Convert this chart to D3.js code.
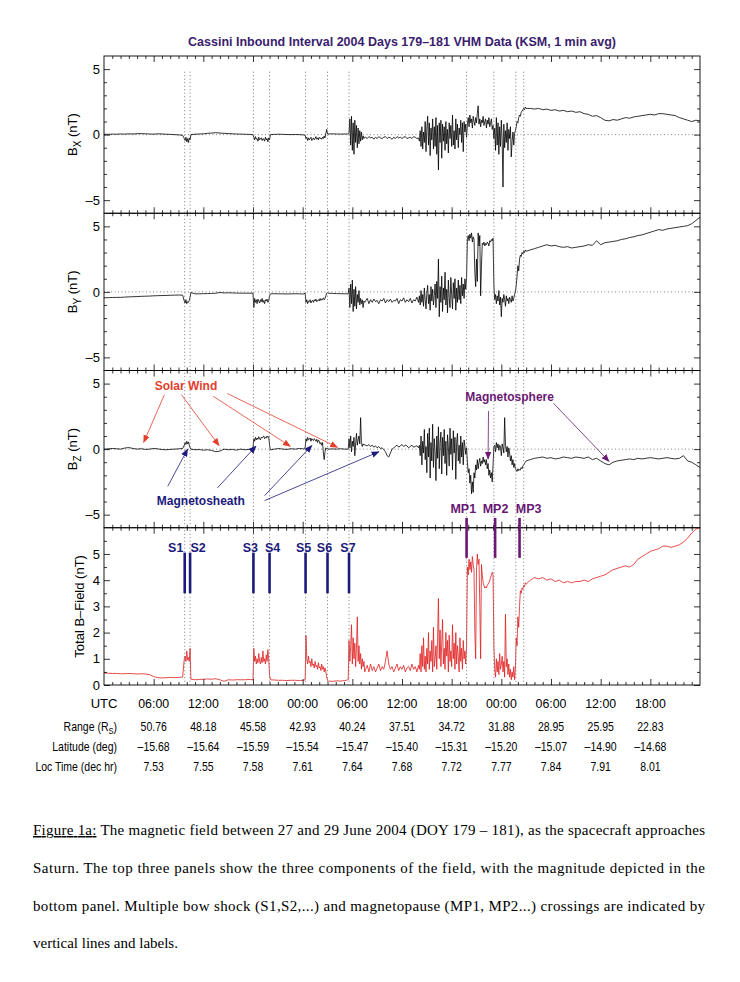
<!DOCTYPE html>
<html>
<head>
<meta charset="utf-8">
<script src="https://cdn.jsdelivr.net/npm/d3@7"></script>
<style>
  body { margin: 0; background: #fff; }
</style>
</head>
<body>
<svg id="chart" width="740" height="982" font-family="'Liberation Sans', Arial, sans-serif"></svg>
<script>
// hours since 2004-179 00:00 UTC; each segment is [start hour, step, values]
const bxSegs = [
  [0, 0.5, [0.03,0.02,0.04,0.03,0.05,0.04,0.06,0.05,0.07,0.08,0.06,0.05,0.04,0.06,0.05,0.03,0.02,0.0,-0.02,-0.05]],
  [9.7, 0.1, [-0.3,-0.45,-0.2,-0.55,-0.3,-0.6,-0.25,-0.4]],
  [10.5, 0.5, [0.0,0.03,0.05,0.06,0.1,0.12,0.15,0.12,0.1,0.08,0.06,0.05,0.04,0.03,0.02]],
  [18.0, 0.1, [0.0,-0.2,-0.4,-0.15,-0.35,-0.3,-0.5,-0.2,-0.4,-0.3,-0.25,-0.45,-0.3,-0.35,-0.5,-0.2,-0.4,-0.3,-0.55,-0.25,-0.4]],
  [20.1, 0.5, [0.0,0.02,0.03,0.02,0.01,0.0,0.01,0.0,-0.02]],
  [24.3, 0.1, [-0.05,-0.3,-0.2,-0.45,-0.25,-0.4,-0.3,-0.2,-0.45,-0.35,-0.25,-0.4,-0.3,-0.15,-0.35,-0.25,-0.4,-0.2,-0.3,-0.25,-0.35,-0.2,-0.3,-0.1,-0.25,0.1,0.4,0.05]],
  [27.1, 0.5, [0.05,0.06,0.05,0.04,0.05]],
  [29.5, 0.1, [0.05,0.1,1.2,-0.8,1.4,-1.2,0.9,-1.5,1.1,-0.6,0.7,-1.0,0.5,-0.7,0.3,-0.5,0.2,-0.4,-0.1,-0.3,-0.2]],
  [31.6, 0.2, [-0.2,-0.3,-0.15,-0.25,-0.2,-0.35,-0.2,-0.3,-0.15,-0.25,-0.3,-0.2,-0.15,-0.3,-0.2,-0.25,-0.35,-0.2,-0.3,-0.15,-0.25,-0.2,-0.3,-0.2,-0.15,-0.3,-0.25,-0.2,-0.3,-0.15,-0.2,-0.3,-0.25]],
  [38.1, 0.1, [-0.5,0.3,-0.9,0.6,-1.1,0.2,-0.6,1.0,-1.3,0.4,
               1.4,-0.8,0.9,-1.6,0.5,-0.4,1.2,-1.1,0.6,-0.9,
               1.3,-1.5,0.7,-2.7,0.9,-0.6,1.1,-1.8,0.8,-0.5,
               0.6,-1.2,1.0,-0.7,0.4,-1.4,0.9,-0.3,0.7,-0.9,
               1.5,-0.8,0.3,-1.1,1.2,-0.4,0.8,-1.0,0.5,0.0,
               1.1,-0.6,0.9,-1.3,1.0,0.2,0.8,-0.2]],
  [43.9, 0.1, [0.8,1.3,0.6,1.5,0.9,1.2,0.5,1.4,1.0,0.7,1.3,0.9,1.6,2.2,0.8,1.2,0.6,1.1,0.9,1.4,0.7,1.0,1.2,0.5,1.1,0.8,1.3,0.6,0.9,1.2,0.4,0.7,-0.3]],
  [47.2, 0.1, [0.5,-1.2,1.3,-0.8,0.9,-1.5,0.6,-0.9,1.1,-0.4,-4.0,0.8,-1.0,0.3,-0.6,0.9,-1.2,0.4,-0.3,0.6,-1.7,-0.5,0.2,-0.8,0.1,0.3]],
  [49.8, 0.1, [0.6,1.0,0.9,1.3,1.5,1.4,1.7,1.8,1.9,2.0,1.9,2.1,2.0]],
  [51.5, 0.5, [2.0,1.95,2.0,1.9,1.95,1.85,1.9,1.8,1.85,1.75,1.8,1.7,1.75,1.6,1.55,1.4,1.45,1.3,1.1,1.05,1.15,1.1,1.2,1.3,1.25,1.35,1.4,1.45,1.5,1.55,1.5,1.6,1.6,1.55,1.5,1.45,1.3,1.2,1.1,1.0,1.1,1.05]]
]

const bySegs = [
  [0, 0.5, [-0.45,-0.44,-0.43,-0.42,-0.42,-0.4,-0.38,-0.37,-0.36,-0.34,-0.33,-0.32,-0.3,-0.29,-0.28,-0.27,-0.26,-0.25,-0.24,-0.25]],
  [9.7, 0.1, [-0.7,-0.85,-0.6,-0.9,-0.75,-0.8,-0.65,-0.4]],
  [10.5, 0.5, [-0.05,-0.15,-0.15,-0.14,-0.13,-0.12,-0.1,-0.05,-0.08,-0.07,-0.08,-0.09,-0.1,-0.1,-0.1]],
  [18.0, 0.1, [-0.1,-1.2,-0.5,-0.8,-0.6,-0.9,-0.55,-0.7,-0.85,-0.6,-0.75,-0.5,-0.8,-0.65,-0.9,-0.6,-0.7,-0.55,-0.8,-0.65,-0.3]],
  [20.1, 0.5, [-0.15,-0.14,-0.15,-0.15,-0.16,-0.15,-0.14,-0.15,-0.16]],
  [24.3, 0.1, [-0.1,-0.8,-0.6,-0.9,-0.7,-0.75,-0.6,-0.85,-0.7,-0.65,-0.8,-0.6,-0.7,-0.55,-0.75,-0.65,-0.6,-0.7,-0.5,-0.65,-0.55,-0.6,-0.45,-0.6,-0.5,-0.3,-0.1,-0.05]],
  [27.1, 0.5, [-0.1,-0.12,-0.13,-0.14,-0.15]],
  [29.5, 0.1, [-0.15,0.3,-1.2,0.6,-0.9,0.9,-1.5,0.2,-1.1,0.4,-1.3,-0.2,-0.8,0.1,-1.0,-0.5,-0.9,-0.6,-1.2,-0.7,-0.8]],
  [31.6, 0.2, [-0.7,-0.5,-0.9,-0.6,-0.8,-0.55,-0.75,-0.65,-0.9,-0.6,-0.7,-0.5,-0.85,-0.6,-0.75,-0.55,-0.8,-0.65,-0.7,-0.5,-0.9,-0.6,-0.7,-0.45,-0.8,-0.6,-0.75,-0.5,-0.85,-0.6,-0.7,-0.4,-0.8]],
  [38.1, 0.1, [-0.3,-1.0,0.1,-0.8,-0.2,-1.1,0.3,-0.6,-1.3,-0.1,
               0.5,-0.9,-0.2,-1.4,0.4,-0.7,0.2,-1.0,-0.3,0.6,
               -1.2,0.8,-0.5,2.5,-1.9,0.4,-0.8,1.2,-1.5,0.3,
               -0.6,1.5,-1.0,0.2,-1.6,0.9,-0.4,-1.2,1.1,-0.2,
               -1.3,0.7,-0.5,1.0,-1.4,0.3,-0.8,0.9,-0.6,0.5,
               -0.9,1.1,-0.3,0.6,-0.5,1.0,0.2,1.1]],
  [43.9, 0.1, [4.0,4.3,3.9,4.4,4.1,4.5,3.8,4.2,4.0,1.5,0.4,2.5,0.8,4.5,3.5,4.3,-0.3,2.0,3.7,3.6,3.8,3.5,3.7,3.6,3.8,3.7,3.5,3.9,3.8,4.0,3.9,4.1,0.5]],
  [47.2, 0.1, [-0.6,-0.2,-0.9,-0.3,-0.7,0.1,-1.0,-0.4,-1.9,-0.5,-0.8,-0.2,-0.6,-1.1,-0.3,-0.7,-0.5,-0.9,-0.4,-0.6,-0.8,-0.3,-0.7,-0.5,-0.2,0.0]],
  [49.8, 0.1, [0.5,1.2,2.0,1.6,2.5,2.8,2.7,3.0,2.9,3.1,3.0,3.2,3.1]],
  [51.5, 0.5, [3.2,3.3,3.4,3.5,3.6,3.5,3.55,3.45,3.4,3.45,3.35,3.4,3.45,3.5,3.6,3.55,3.9,3.6,3.75,3.8,3.85,3.9,4.0,4.05,4.15,4.2,4.3,4.35,4.45,4.55,4.65,4.75,4.7,4.8,4.85,4.9,4.95,5.0,5.05,5.2,5.45,5.7]]
]

const bzSegs = [
  [0, 0.5, [0.0,0.02,0.05,0.03,0.0,0.08,0.12,0.05,0.0,0.03,-0.02,0.0,0.05,0.02,-0.03,-0.05,-0.02,0.0,0.02,0.05]],
  [9.7, 0.1, [0.3,0.5,0.35,0.6,0.4,0.55,0.3,0.1]],
  [10.5, 0.5, [0.0,-0.05,-0.03,-0.08,-0.05,-0.1,-0.2,-0.15,0.0,-0.05,-0.02,-0.08,0.0,-0.05,-0.02]],
  [18.0, 0.1, [0.1,0.8,0.6,0.9,0.7,0.85,0.75,0.95,0.8,0.7,0.9,0.85,0.95,1.0,0.8,0.9,0.85,1.0,0.9,0.95,0.3]],
  [20.1, 0.5, [-0.05,0.0,0.05,0.0,-0.02,0.03,0.0,0.05,0.02]],
  [24.3, 0.1, [0.1,0.8,0.6,0.9,0.7,0.75,0.85,0.6,0.8,0.7,0.65,0.8,0.7,0.6,0.75,0.5,0.7,0.6,0.4,0.5,0.3,0.5,-0.3,-0.8,-0.2,0.1,0.0,0.05]],
  [27.1, 0.5, [0.0,0.02,0.0,0.03,0.0]],
  [29.5, 0.1, [0.0,0.8,0.1,1.0,-0.2,0.6,0.2,0.9,-0.5,0.4,1.2,0.3,0.7,1.0,0.4,2.4,0.5,0.2,0.4,0.3,0.35]],
  [31.6, 0.2, [0.3,0.25,0.35,0.2,0.3,0.15,0.25,0.1,0.2,0.05,0.1,-0.05,-0.2,-0.5,-0.6,-0.3,0.0,0.1,0.2,0.3,0.15,0.25,0.35,0.2,0.3,0.25,0.1,0.2,0.3,0.15,0.2,0.25,0.1]],
  [38.1, 0.1, [0.3,-0.5,1.0,-1.2,0.6,-0.3,1.5,-0.8,0.2,-1.8,
               1.2,-0.6,1.6,-2.2,0.5,-0.9,1.9,-1.4,0.8,-0.2,
               -2.4,1.0,-0.7,1.7,-1.5,0.4,1.3,-1.9,0.9,-0.5,
               1.5,-1.1,0.6,-2.0,1.1,0.2,-1.3,1.6,-0.4,0.8,
               -1.6,1.4,-0.3,0.9,-2.3,0.5,1.2,-0.9,0.3,-1.1,
               1.0,-0.6,0.5,-1.2,0.7,0.2,-0.4,0.1]],
  [43.9, 0.1, [-1.0,-1.8,-1.5,-2.6,-2.0,-3.4,-2.5,-3.3,-1.8,-2.2,-1.2,-1.6,-0.8,-1.5,-1.0,-0.7,-1.3,-0.9,-1.1,-0.6,-1.0,-0.8,-1.2,-0.8,-1.5,-1.1,-2.0,-1.6,-2.2,-1.8,-2.5,-1.2,0.2]],
  [47.2, 0.1, [0.3,-0.2,0.5,0.1,0.4,-0.1,0.3,0.2,-0.5,0.4,0.1,-0.3,2.4,0.3,-0.2,0.2,-0.6,0.1,-0.3,-0.9,-0.5,-1.2,-0.8,-1.4,-1.1,-1.5]],
  [49.8, 0.1, [-1.6,-1.7,-1.5,-1.65,-1.55,-1.6,-1.4,-1.5,-1.3,-1.2,-1.1,-1.0,-0.9]],
  [51.5, 0.5, [-0.8,-0.7,-0.65,-0.6,-0.7,-0.65,-0.75,-0.7,-0.6,-0.65,-0.7,-0.6,-0.65,-0.7,-0.6,-0.8,-0.7,-0.9,-1.1,-1.2,-1.0,-0.9,-0.85,-0.8,-0.75,-0.8,-0.7,-0.75,-0.7,-0.65,-0.7,-0.75,-0.7,-0.65,-0.7,-0.75,-0.7,-0.5,-0.9,-1.0,-1.2,-1.4]]
]

const btSegs = [
  [0, 0.5, [0.46,0.45,0.44,0.44,0.43,0.43,0.44,0.43,0.42,0.43,0.42,0.4,0.32,0.28,0.27,0.28,0.29,0.28,0.29,0.3]],
  [9.7, 0.1, [1.0,1.1,0.9,1.3,0.95,1.05,0.9,1.4]],
  [10.5, 0.5, [0.22,0.2,0.21,0.22,0.23,0.22,0.24,0.2,0.14,0.2,0.19,0.2,0.2,0.2,0.21]],
  [18.0, 0.1, [0.2,1.4,0.9,1.1,0.8,1.0,0.85,1.2,0.9,0.8,1.05,0.85,1.3,0.9,1.0,0.8,1.15,0.9,1.35,0.95,0.4]],
  [20.1, 0.5, [0.2,0.19,0.18,0.18,0.17,0.18,0.18,0.17,0.18]],
  [24.3, 0.1, [0.2,1.9,1.0,0.8,1.1,0.85,0.9,0.7,1.0,0.75,0.8,0.65,0.9,0.7,0.75,0.6,0.85,0.65,0.7,0.55,0.8,0.6,0.7,0.5,0.65,0.5,0.3,0.18]],
  [27.1, 0.5, [0.15,0.14,0.16,0.15,0.17]],
  [29.5, 0.1, [0.2,1.7,0.9,1.5,2.3,0.8,1.8,1.0,1.6,0.7,1.4,2.6,0.9,1.5,0.8,1.2,0.6,1.0,0.7,0.9,0.5]],
  [31.6, 0.2, [0.6,0.75,0.5,0.8,0.55,0.7,0.5,0.65,0.8,0.55,0.7,0.6,0.9,1.3,0.8,0.6,0.7,0.5,0.65,0.8,0.55,0.7,0.6,0.75,0.5,0.65,0.7,0.55,0.8,0.6,0.7,0.5,0.75]],
  [38.1, 0.1, [0.6,1.2,0.5,1.5,0.7,1.8,0.6,1.1,0.5,1.4,
               0.8,2.0,0.6,1.3,0.9,1.7,0.5,2.2,0.7,1.0,
               1.5,0.6,1.8,3.3,1.0,2.1,0.7,1.6,2.5,0.8,
               1.4,0.6,2.0,1.1,1.7,0.5,1.9,0.9,1.3,0.7,
               2.3,1.0,1.6,0.6,2.0,0.8,1.5,1.1,0.5,1.8,
               0.9,1.4,0.6,1.7,1.0,1.3,0.8,1.5]],
  [43.9, 0.1, [4.5,4.2,4.8,4.4,4.7,4.3,4.9,4.6,4.4,2.0,1.0,4.4,5.0,4.6,4.8,3.0,1.0,4.6,4.2,3.9,3.8,3.7,3.75,3.7,3.8,3.85,3.9,4.0,4.1,4.2,4.3,4.2,1.5]],
  [47.2, 0.1, [0.6,0.3,1.0,0.5,0.9,0.4,1.2,0.6,0.8,1.1,0.5,0.9,0.3,2.7,0.7,1.0,0.4,0.8,0.3,0.6,0.2,0.5,0.3,0.7,0.2,0.6]],
  [49.8, 0.1, [1.8,1.5,2.6,2.2,3.0,3.6,3.5,3.7,3.65,3.8,3.75,3.9,3.85]],
  [51.5, 0.5, [4.0,4.1,4.05,4.1,4.0,4.05,3.95,4.0,3.9,3.95,3.9,3.95,3.95,4.0,3.95,4.05,4.1,4.15,4.2,4.3,4.4,4.45,4.5,4.55,4.5,4.6,4.8,4.9,5.0,5.1,5.15,5.2,5.3,5.3,5.25,5.3,5.35,5.45,5.6,5.8,5.95,6.0]]
]

// crossings
const shockNames = ["S1", "S2", "S3", "S4", "S5", "S6", "S7"]
const shockTimes = [9.75, 10.4, 18.05, 20.0, 24.35, 27.0, 29.6]
const mpNames = ["MP1", "MP2", "MP3"]
const mpTimes = [43.8, 47.25, 50.2]
const mpLabelTimes = [43.4, 47.3, 51.3]
const dottedTimes = [9.75, 10.4, 18.05, 20.0, 24.35, 27.0, 29.6, 43.8, 47.1, 49.75, 50.7]

// bottom table
const utcLabels = ["06:00","12:00","18:00","00:00","06:00","12:00","18:00","00:00","06:00","12:00","18:00"]
const rangeVals = ["50.76","48.18","45.58","42.93","40.24","37.51","34.72","31.88","28.95","25.95","22.83"]
const latVals = ["\u201315.68","\u201315.64","\u201315.59","\u201315.54","\u201315.47","\u201315.40","\u201315.31","\u201315.20","\u201315.07","\u201314.90","\u201314.68"]
const locVals = ["7.53","7.55","7.58","7.61","7.64","7.68","7.72","7.77","7.84","7.91","8.01"]

// annotation arrows in panel 3: [t0, v0, t1, v1]
const solarWindArrows = [[7.3, 4.16, 4.8, 0.52], [9.35, 4.16, 13.9, 0.27], [13.2, 4.03, 22.5, 0.22], [14.9, 4.24, 28.2, 0.14]]
const sheathArrows = [[7.7, -2.84, 10.1, 0.0], [13.7, -2.96, 18.35, 0.22], [19.4, -3.55, 25.1, 0.27], [19.4, -3.93, 33.2, -0.2]]
const sphereArrows = [[54.3, 3.5, 61.0, -0.93], [46.45, 2.9, 46.4, -0.75]]

const captionLines = [
  "The magnetic field between 27 and 29 June 2004 (DOY 179 \u2013 181), as the spacecraft approaches",
  "Saturn.  The top three panels show the three components of the field, with the magnitude depicted in the",
  "bottom panel. Multiple bow shock (S1,S2,...) and magnetopause (MP1, MP2...) crossings are indicated by",
  "vertical lines and labels."
]

const RED = "#e01e1e", NAVY = "#1c1a7c", PURPLE = "#6a1874", ANNOT_RED = "#e2402c"
const SANS = "'Liberation Sans', Arial, sans-serif"
const SERIF = "'Liberation Serif', 'Times New Roman', serif"

const svg = d3.select("#chart")
const plotLeft = 104, plotRight = 700, plotTop = 56, panelH = 157.25
const x = d3.scaleLinear().domain([0, 72]).range([plotLeft, plotRight])

const expand = (segs) => segs.flatMap(([t0, dt, vals]) => vals.map((v, i) => [t0 + i * dt, v]))

const panels = [
  { data: bxSegs, sub: "X", color: "#000" },
  { data: bySegs, sub: "Y", color: "#000" },
  { data: bzSegs, sub: "Z", color: "#000" },
  { data: btSegs, sub: null, color: RED }
].map((p, i) => {
  const y0 = plotTop + i * panelH, y1 = y0 + panelH
  const domain = p.sub ? [-6, 6] : [0, 6]
  return { ...p, y0, y1, y: d3.scaleLinear().domain(domain).range([y1, y0]) }
})

// defs: clip + arrow markers
const defs = svg.append("defs")
panels.forEach((p, i) => {
  defs.append("clipPath").attr("id", `clip${i}`)
    .append("rect").attr("x", plotLeft).attr("y", p.y0).attr("width", plotRight - plotLeft).attr("height", p.y1 - p.y0)
})
;[["red", ANNOT_RED], ["navy", NAVY], ["purple", PURPLE]].forEach(([id, c]) => {
  defs.append("marker").attr("id", `arr-${id}`)
    .attr("viewBox", "0 0 10 10").attr("refX", 9).attr("refY", 5)
    .attr("markerUnits", "userSpaceOnUse").attr("markerWidth", 8).attr("markerHeight", 8)
    .attr("orient", "auto")
    .append("path").attr("d", "M0,1 L10,5 L0,9 z").attr("fill", c)
})

// title
svg.append("text").attr("x", 402).attr("y", 46).attr("text-anchor", "middle")
  .attr("font-size", 12.5).attr("font-weight", "bold").attr("fill", "#3a1c6e")
  .text("Cassini Inbound Interval 2004 Days 179\u2013181 VHM Data (KSM, 1 min avg)")

const minus = (d) => (d < 0 ? "\u2013" + Math.abs(d) : String(d))

panels.forEach((p, i) => {
  const g = svg.append("g")
  const isComp = !!p.sub

  // zero reference line
  if (isComp) {
    g.append("line").attr("x1", plotLeft).attr("x2", plotRight).attr("y1", p.y(0)).attr("y2", p.y(0))
      .attr("stroke", "#777").attr("stroke-width", 0.9).attr("stroke-dasharray", "1,2.5")
  }

  // data line
  g.append("path")
    .datum(expand(p.data))
    .attr("clip-path", `url(#clip${i})`)
    .attr("fill", "none").attr("stroke", p.color).attr("stroke-width", 0.8)
    .attr("stroke-linejoin", "round")
    .attr("d", d3.line().x((d) => x(d[0])).y((d) => p.y(d[1])))

  // frame
  g.append("rect").attr("x", plotLeft).attr("y", p.y0).attr("width", plotRight - plotLeft).attr("height", p.y1 - p.y0)
    .attr("fill", "none").attr("stroke", "#000").attr("stroke-width", 0.9)

  // x ticks top & bottom
  const xMajor = d3.range(6, 72, 6), xMinor = d3.range(1, 72, 1).filter((h) => h % 6)
  const tickStyle = (sel) => {
    sel.select(".domain").remove()
    sel.selectAll("line").attr("stroke", "#000").attr("stroke-width", 0.8)
    sel.selectAll("text").remove()
  }
  g.append("g").attr("transform", `translate(0,${p.y1})`)
    .call(d3.axisBottom(x).tickValues(xMajor).tickSize(-6)).call(tickStyle)
  g.append("g").attr("transform", `translate(0,${p.y1})`)
    .call(d3.axisBottom(x).tickValues(xMinor).tickSize(-3)).call(tickStyle)
  g.append("g").attr("transform", `translate(0,${p.y0})`)
    .call(d3.axisTop(x).tickValues(xMajor).tickSize(-6)).call(tickStyle)
  g.append("g").attr("transform", `translate(0,${p.y0})`)
    .call(d3.axisTop(x).tickValues(xMinor).tickSize(-3)).call(tickStyle)

  // y ticks
  const yMajor = isComp ? [-5, 0, 5] : [0, 1, 2, 3, 4, 5]
  const yMinor = isComp ? d3.range(-5, 6).filter((v) => v % 5) : d3.range(0.5, 6, 1)
  const yLab = g.append("g").attr("transform", `translate(${plotLeft},0)`)
    .call(d3.axisLeft(p.y).tickValues(yMajor).tickSize(-6).tickPadding(4).tickFormat(minus))
  yLab.select(".domain").remove()
  yLab.attr("font-family", SANS)
  yLab.selectAll("line").attr("stroke", "#000").attr("stroke-width", 0.8)
  yLab.selectAll("text").attr("font-size", 13).attr("fill", "#000")
  g.append("g").attr("transform", `translate(${plotLeft},0)`)
    .call(d3.axisLeft(p.y).tickValues(yMinor).tickSize(-3)).call(tickStyle)
  g.append("g").attr("transform", `translate(${plotRight},0)`)
    .call(d3.axisRight(p.y).tickValues(yMajor).tickSize(-6)).call(tickStyle)
  g.append("g").attr("transform", `translate(${plotRight},0)`)
    .call(d3.axisRight(p.y).tickValues(yMinor).tickSize(-3)).call(tickStyle)

  // axis title
  const cy = (p.y0 + p.y1) / 2
  if (isComp) {
    const t = g.append("text").attr("transform", `translate(77,${cy}) rotate(-90)`)
      .attr("text-anchor", "middle").attr("font-size", 13).attr("fill", "#000")
    t.append("tspan").text("B")
    t.append("tspan").attr("font-size", 10).attr("dy", 4).text(p.sub)
    t.append("tspan").attr("dy", -4).text(" (nT)")
  } else {
    g.append("text").attr("transform", `translate(84,${cy}) rotate(-90)`)
      .attr("text-anchor", "middle").attr("font-size", 13).attr("fill", "#000")
      .text("Total B\u2013Field (nT)")
  }
})

// vertical dotted crossing lines
const p1 = panels[0], p3 = panels[2], p4 = panels[3]
svg.append("g").selectAll("line").data(dottedTimes).join("line")
  .attr("x1", (d) => x(d)).attr("x2", (d) => x(d))
  .attr("y1", p1.y(4.8)).attr("y2", p4.y1)
  .attr("stroke", "#666").attr("stroke-width", 0.9).attr("stroke-dasharray", "1,2.5")

// bow shock bars and labels
const shockNudge = { S1: -9, S2: 8, S3: -3, S4: 3, S5: -2, S6: -3, S7: -1 }
svg.append("g").selectAll("line").data(shockTimes).join("line")
  .attr("x1", (d) => x(d)).attr("x2", (d) => x(d))
  .attr("y1", p4.y(5.05)).attr("y2", p4.y(3.5))
  .attr("stroke", NAVY).attr("stroke-width", 2.6)
svg.append("g").selectAll("text").data(shockNames).join("text")
  .attr("x", (d, i) => x(shockTimes[i]) + (shockNudge[d] || 0))
  .attr("y", p4.y(5.27) + 5)
  .attr("text-anchor", "middle").attr("font-size", 12.5).attr("font-weight", "bold").attr("fill", NAVY)
  .text((d) => d)

// magnetopause bars and labels
svg.append("g").selectAll("line").data(mpTimes).join("line")
  .attr("x1", (d) => x(d)).attr("x2", (d) => x(d))
  .attr("y1", p3.y(-5.25)).attr("y2", p4.y(4.85))
  .attr("stroke", PURPLE).attr("stroke-width", 2.6)
svg.append("g").selectAll("text").data(mpNames).join("text")
  .attr("x", (d, i) => x(mpLabelTimes[i]))
  .attr("y", p3.y(-4.46) + 5)
  .attr("text-anchor", "middle").attr("font-size", 12.5).attr("font-weight", "bold").attr("fill", PURPLE)
  .text((d) => d)

// annotations in the Bz panel
const drawArrows = (list, color, id) => {
  svg.append("g").selectAll("line").data(list).join("line")
    .attr("x1", (d) => x(d[0])).attr("y1", (d) => p3.y(d[1]))
    .attr("x2", (d) => x(d[2])).attr("y2", (d) => p3.y(d[3]))
    .attr("stroke", color).attr("stroke-width", 0.8)
    .attr("marker-end", `url(#arr-${id})`)
}
drawArrows(solarWindArrows, ANNOT_RED, "red")
drawArrows(sheathArrows, NAVY, "navy")
drawArrows(sphereArrows, PURPLE, "purple")

const annot = (label, t, v, color) =>
  svg.append("text").attr("x", x(t)).attr("y", p3.y(v) + 4.5)
    .attr("text-anchor", "middle").attr("font-size", 12).attr("font-weight", "bold")
    .attr("fill", color).text(label)
annot("Solar Wind", 9.9, 4.85, ANNOT_RED)
annot("Magnetosheath", 11.7, -3.9, NAVY)
annot("Magnetosphere", 49.0, 4.05, PURPLE)

// time labels and ephemeris table (condensed look via horizontal squeeze)
const tickHours = d3.range(6, 72, 6)
const SQUEEZE = 0.84
const rowText = (vals, yPos, size, squeeze) =>
  svg.append("g").selectAll("text").data(vals).join("text")
    .attr("transform", (d, i) => `translate(${x(tickHours[i])},${yPos}) scale(${squeeze},1)`)
    .attr("text-anchor", "middle").attr("font-size", size)
    .attr("fill", "#000").text((d) => d)

svg.append("text").attr("x", x(0)).attr("y", 708).attr("text-anchor", "middle")
  .attr("font-size", 13).text("UTC")
rowText(utcLabels, 708, 13, 0.95)

const rowLabel = (yPos) => svg.append("text")
  .attr("transform", `translate(117,${yPos}) scale(${SQUEEZE},1)`)
  .attr("text-anchor", "end").attr("font-size", 12.5)
const rl = rowLabel(731)
rl.append("tspan").text("Range (R")
rl.append("tspan").attr("font-size", 9).attr("dy", 3).text("S")
rl.append("tspan").attr("dy", -3).text(")")
rowLabel(751).text("Latitude (deg)")
rowLabel(771).text("Loc Time (dec hr)")
rowText(rangeVals, 731, 12.5, SQUEEZE)
rowText(latVals, 751, 12.5, SQUEEZE)
rowText(locVals, 771, 12.5, SQUEEZE)

// caption
const capY = [835, 873, 911, 948]
captionLines.forEach((line, i) => {
  const t = svg.append("text").attr("x", 33).attr("y", capY[i])
    .attr("font-family", SERIF).attr("font-size", 15).attr("fill", "#000")
  if (i < 3) t.attr("textLength", 672).attr("lengthAdjust", "spacing")
  if (i === 0) {
    t.append("tspan").attr("text-decoration", "underline").text("Figure 1a:")
    t.append("tspan").text(" " + line)
  } else {
    t.text(line)
  }
})
</script>
</body>
</html>
